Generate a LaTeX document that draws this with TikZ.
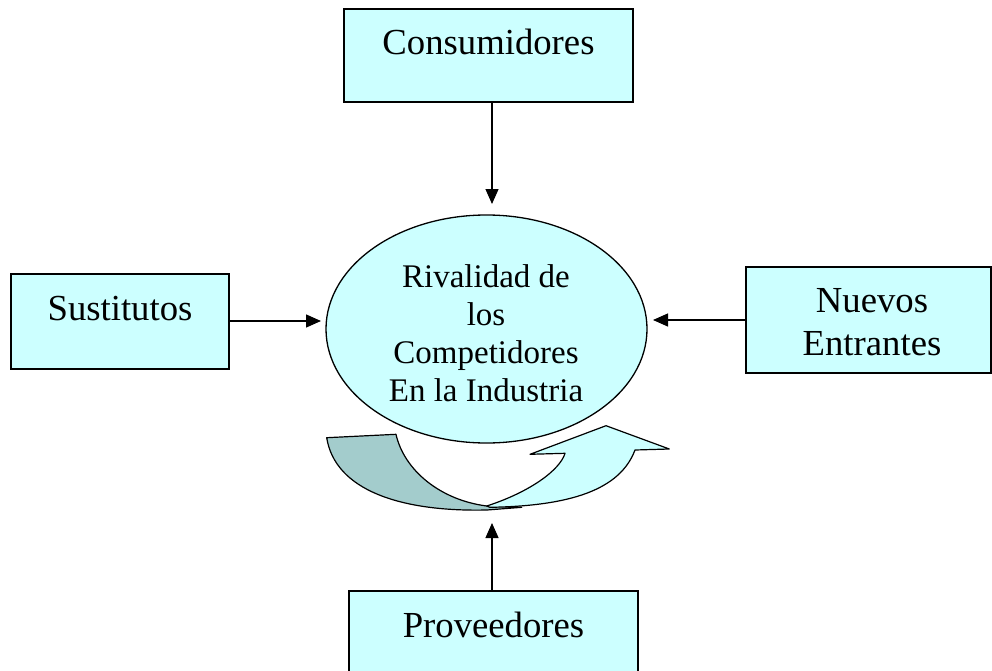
\documentclass[tikz,border=0pt]{standalone}
\usepackage{fontspec}
\setmainfont{Liberation Serif}
\usetikzlibrary{shapes.geometric,arrows.meta}
\definecolor{boxfill}{HTML}{CCFFFF}
\definecolor{darkfill}{HTML}{A3CCCC}
\tikzset{
  forcebox/.style={draw=black, fill=boxfill, line width=1.3pt, rectangle, inner sep=0pt},
  forcetext/.style={anchor=base, inner sep=0pt, font=\fontsize{36.7}{43}\selectfont},
  rivaltext/.style={anchor=base, inner sep=0pt, font=\fontsize{33}{37.7}\selectfont},
  forcearrow/.style={line width=1.3pt, -{Triangle[length=15pt,width=13pt]}},
  uturn/.style={draw=black, line width=1.2pt, line join=round}
}
\begin{document}
\begin{tikzpicture}[x=1pt,y=-1pt]
\useasboundingbox (0,0) rectangle (992,671);
\clip (0,0) rectangle (992,671);
\fill[white] (0,0) rectangle (992,671);

% boxes
\node[forcebox, minimum width=289pt, minimum height=93pt] (cons) at (488.5,55.5) {};
\node[forcetext] (constext) at (488.5,55) {Consumidores};

\node[forcebox, minimum width=218pt, minimum height=95pt] (sust) at (120,321.5) {};
\node[forcetext] (susttext) at (120,320) {Sustitutos};

\node[forcebox, minimum width=245pt, minimum height=106pt] (nuev) at (868.5,320) {};
\node[forcetext] (nuevtext1) at (872,312) {Nuevos};
\node[forcetext] (nuevtext2) at (872,355) {Entrantes};

\node[forcebox, minimum width=289pt, minimum height=100pt] (prov) at (493.5,641) {};
\node[forcetext] (provtext) at (493.5,637) {Proveedores};

% central ellipse
\node[ellipse, draw=black, fill=boxfill, line width=1.3pt, minimum width=321pt, minimum height=228pt, inner sep=0pt] (rival) at (486.5,329) {};
\node[rivaltext] (r1) at (486,287) {Rivalidad de};
\node[rivaltext] (r2) at (486,325) {los};
\node[rivaltext] (r3) at (486,363) {Competidores};
\node[rivaltext] (r4) at (486,401) {En la Industria};

% U-turn arrow
\path[uturn, fill=darkfill]
  (326.7,437.7) -- (396,434.3)
  .. controls (404,470) and (440,500) .. (486.7,506)
  -- (521.7,507.3)
  -- (487,510)
  .. controls (400,512) and (335,490) .. cycle;
\path[uturn, fill=boxfill]
  (486.7,506)
  .. controls (530,492) and (560,470) .. (565,453.3)
  -- (530,454.3) -- (606,425.7) -- (669.3,449) -- (635,450)
  .. controls (620,490) and (570,506) .. (490,507.3)
  -- cycle;

% connectors
\coordinate (toptip) at (492,204);
\coordinate (lefttip) at (321,321);
\coordinate (righttip) at (653,320);
\coordinate (bottip) at (492,523);
\draw[forcearrow] (cons.south -| toptip) -- (toptip);
\draw[forcearrow] (sust.east |- lefttip) -- (lefttip);
\draw[forcearrow] (nuev.west |- righttip) -- (righttip);
\draw[forcearrow] (prov.north -| bottip) -- (bottip);
\end{tikzpicture}
\end{document}
